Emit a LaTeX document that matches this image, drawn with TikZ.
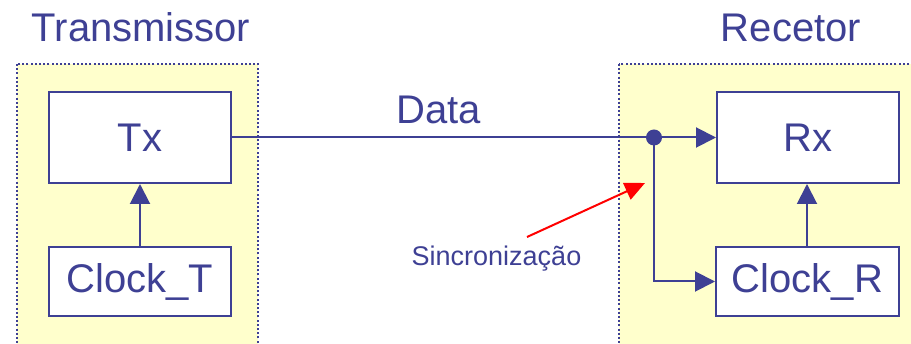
\documentclass[tikz,border=0pt]{standalone}
\usepackage{fontspec}
\setmainfont{Liberation Sans}
\usetikzlibrary{arrows.meta}
\definecolor{dblue}{RGB}{62,64,148}
\definecolor{pyellow}{RGB}{255,255,204}
\tikzset{
  panel/.style={fill=pyellow, draw=dblue, line width=2pt, dash pattern=on 2pt off 2.2pt},
  blk/.style={draw=dblue, fill=white, line width=2pt, text=dblue, inner sep=0pt,
              font=\fontsize{40}{48}\selectfont},
  title/.style={text=dblue, inner sep=0pt, anchor=base, font=\fontsize{40}{48}\selectfont},
  conn/.style={draw=dblue, line width=2pt},
  tip/.style={-{Triangle[length=20pt,width=20pt]}}
}
\begin{document}
\begin{tikzpicture}[x=1pt,y=-1pt]
\useasboundingbox (0,0) rectangle (911,344);
\clip (0,0) rectangle (911,344);
\fill[white] (0,0) rectangle (911,344);
% panels
\path[panel] (17,64) rectangle (258,360);
\path[panel] (619,64) rectangle (930,360);
% titles
\node[title] (tTx) at (141,42) {Transmissor};
\node[title] (tRx) at (791,42) {Recetor};
% blocks
\node[blk, minimum width=182pt, minimum height=91pt] (Tx) at (140,137.5) {Tx};
\node[blk, minimum width=182pt, minimum height=69pt] (CT) at (140,281.5) {Clock\_T};
\node[blk, minimum width=182pt, minimum height=91pt] (Rx) at (808,137.5) {Rx};
\node[blk, minimum width=183pt, minimum height=69pt] (CR) at (807.5,281.5) {Clock\_R};
% connectors
\draw[conn, tip] (CT.north) -- (Tx.south);
\draw[conn, tip] (CR.north -| 807,0) -- (Rx.south -| 807,0);
\coordinate (dot) at (654,137.5);
\draw[conn, tip] (Tx.east) -- (Rx.west);
\draw[conn, tip] (dot) |- (CR.west);
\fill[dblue] (dot) circle (8pt);
\node[title] (data) at (439,124) {Data};
% sync label and red arrow
\node[text=dblue, inner sep=0pt, anchor=base, font=\fontsize{27}{32}\selectfont] (sync) at (496.5,266) {Sincronização};
\coordinate (syncS) at (527,237);
\coordinate (syncE) at (645,183);
\draw[red, line width=2pt, -{Triangle[length=20pt,width=18pt]}] (syncS) -- (syncE);
\end{tikzpicture}
\end{document}
